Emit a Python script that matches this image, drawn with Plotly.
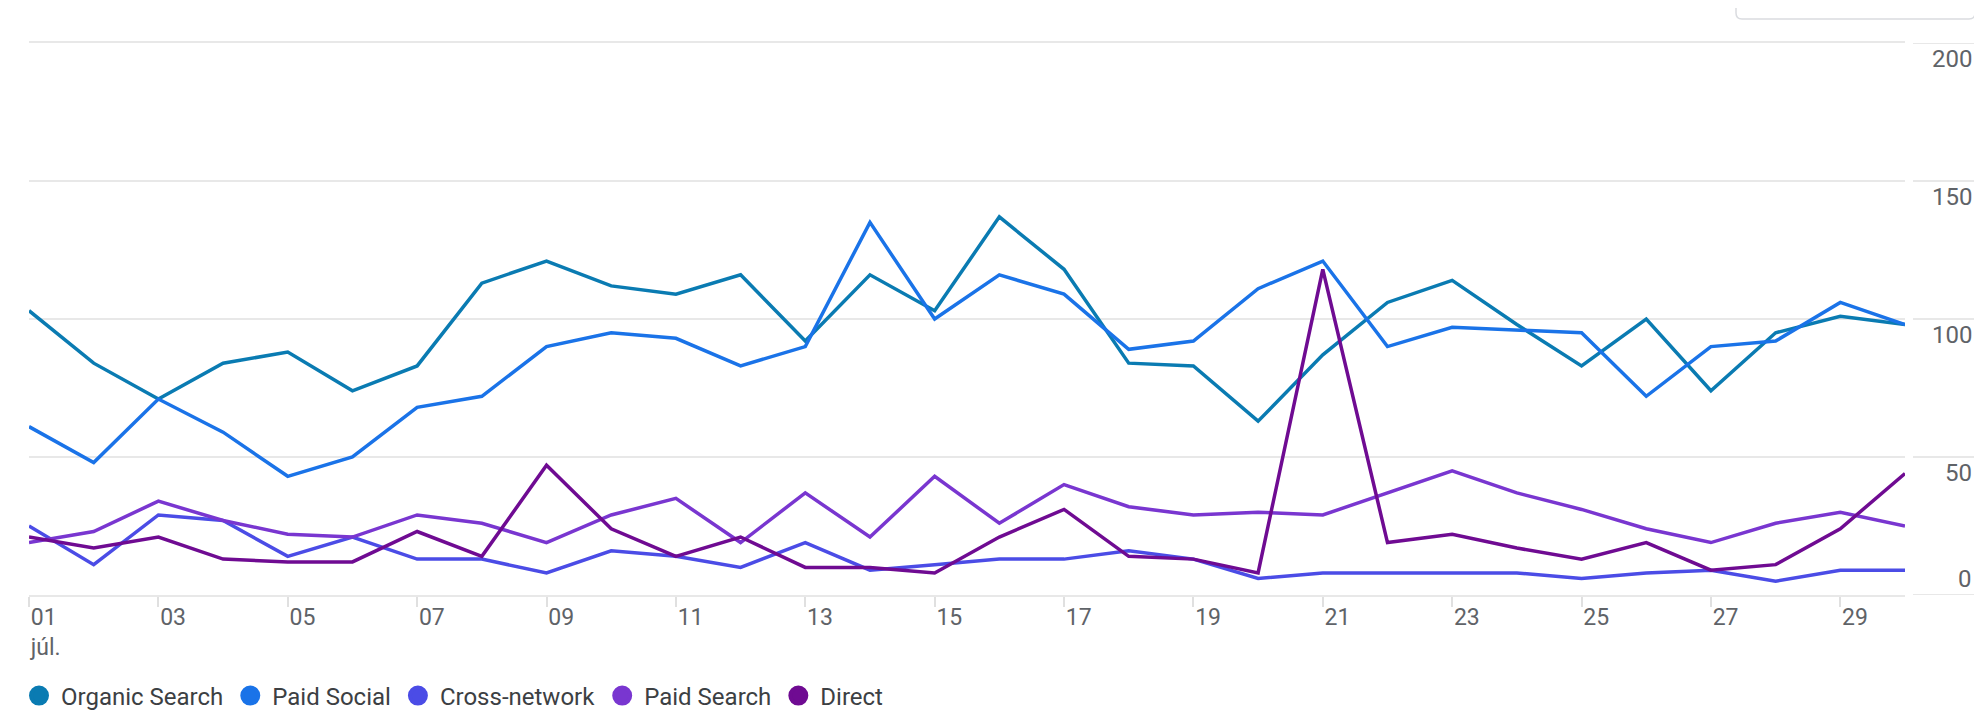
import plotly.graph_objects as go

days = list(range(1, 31))
organic_search = [103, 84, 71, 84, 88, 74, 83, 113, 121, 112, 109, 116, 92, 116, 103, 137, 118, 84, 83, 63,
                  87, 106, 114, 98, 83, 100, 74, 95, 101, 98]
paid_social = [61, 48, 71, 59, 43, 50, 68, 72, 90, 95, 93, 83, 90, 135, 100, 116, 109, 89, 92, 111,
               121, 90, 97, 96, 95, 72, 90, 92, 106, 98]
cross_network = [25, 11, 29, 27, 14, 21, 13, 13, 8, 16, 14, 10, 19, 9, 11, 13, 13, 16, 13, 6,
                 8, 8, 8, 8, 6, 8, 9, 5, 9, 9]
paid_search = [19, 23, 34, 27, 22, 21, 29, 26, 19, 29, 35, 19, 37, 21, 43, 26, 40, 32, 29, 30,
               29, 37, 45, 37, 31, 24, 19, 26, 30, 25]
direct = [21, 17, 21, 13, 12, 12, 23, 14, 47, 24, 14, 21, 10, 10, 8, 21, 31, 14, 13, 8,
          118, 19, 22, 17, 13, 19, 9, 11, 24, 44]

series_names = ["Organic Search", "Paid Social", "Cross-network", "Paid Search", "Direct"]
series_values = [organic_search, paid_social, cross_network, paid_search, direct]
series_colors = ["#0a7bb2", "#1a73e8", "#4b4ce6", "#7936d0", "#6f0b92"]

tick_days = list(range(1, 30, 2))
tick_text = ["01<br>júl."] + [f"{d:02d}" for d in tick_days[1:]]
y_ticks = [0, 50, 100, 150, 200]

# page body has an 8px margin, so the figure is sized to fit inside the window
W, H = 1974, 706
ML, MR, MT, MB = 21, 77, 35, 119
plot_w = W - ML - MR
plot_h = H - MT - MB

fig = go.Figure()
for name, vals, col in zip(series_names, series_values, series_colors):
    fig.add_trace(go.Scatter(x=days, y=vals, mode="lines", name=name,
                             line=dict(color=col, width=3.5), showlegend=False,
                             hoverinfo="skip"))
for name, col in zip(series_names, series_colors):
    fig.add_trace(go.Scatter(x=[None], y=[None], mode="markers", name=name,
                             marker=dict(color=col, size=20, symbol="circle",
                                         line=dict(color=col, width=4)),
                             showlegend=True))

grid_col = "#e8e8e8"
fig.update_layout(
    width=W, height=H,
    margin=dict(l=ML, r=MR, t=MT, b=MB, autoexpand=False),
    paper_bgcolor="white", plot_bgcolor="white",
    font=dict(family="Roboto", color="#5f6368"),
    showlegend=True,
    legend=dict(orientation="h", x=-12 / plot_w, xanchor="left",
                yref="container", y=1 - 688 / H, yanchor="middle",
                font=dict(size=24, color="#3c4043"), itemwidth=34, tracegroupgap=0),
    xaxis=dict(range=[1, 30], tickvals=tick_days, ticktext=tick_text,
               ticklabelposition="outside right", automargin=False,
               showgrid=False, zeroline=False,
               showline=True, mirror=True, linecolor=grid_col, linewidth=2,
               ticks="outside", ticklen=10, tickwidth=1.5, tickcolor="#e0e0e0",
               tickfont=dict(size=23, color="#5f6368")),
    yaxis=dict(range=[0, 200], tickvals=y_ticks, showticklabels=False, automargin=False,
               showgrid=True, gridcolor=grid_col, gridwidth=2,
               zeroline=False, showline=False, ticks=""),
)

# right-side y labels and short grid segments
for v in y_ticks:
    fig.add_shape(type="line", xref="paper", yref="y",
                  x0=1 + 8 / plot_w, x1=1 + 69 / plot_w, y0=v, y1=v,
                  line=dict(color=grid_col, width=2))
    fig.add_annotation(xref="paper", yref="y", x=1 + 69 / plot_w, y=v,
                       text=str(v), showarrow=False, xanchor="right", yanchor="middle",
                       yshift=(16 if v == 0 else -16),
                       font=dict(size=24, color="#5f6368"))

# partially visible control box at top right
fig.add_shape(type="path", xref="paper", yref="paper", xsizemode="pixel", ysizemode="pixel",
              xanchor=1, yanchor=1,
              path="M -169,50 L -169,30 Q -169,24 -163,24 L 64,24 Q 70,24 70,30 L 70,50",
              line=dict(color="#dadce0", width=1.5))

fig.write_html("out.html")
